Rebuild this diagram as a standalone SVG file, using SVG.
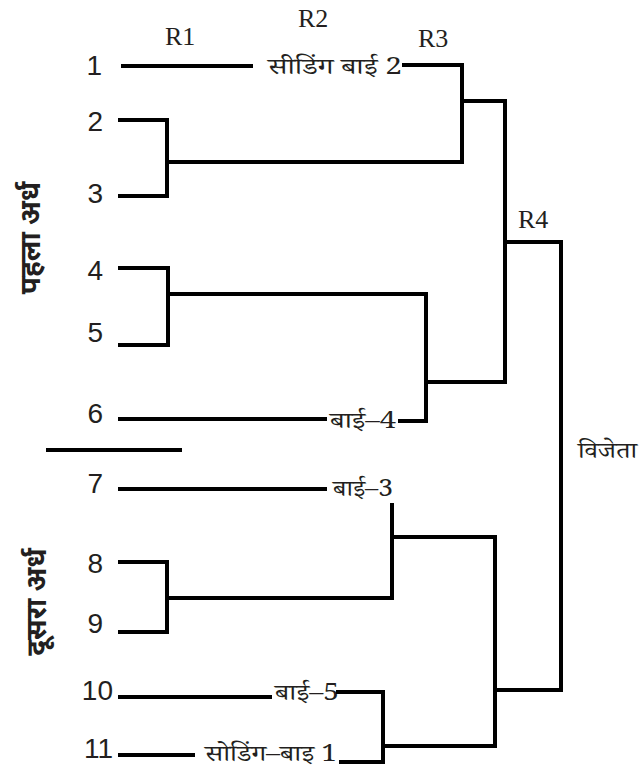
<svg xmlns="http://www.w3.org/2000/svg" width="640" height="772" viewBox="0 0 640 772">
  <style>
    .wire { fill: none; stroke: #000; stroke-width: 4; stroke-linecap: square; stroke-linejoin: miter; }
    .num { font-family: "Liberation Sans", Arial, sans-serif; font-size: 28px; fill: #231f20; text-anchor: end; }
    .rnd { font-family: "Liberation Serif", "Times New Roman", serif; font-size: 26px; fill: #231f20; }
    .lbl { font-family: "Noto Serif Devanagari", "Noto Sans Devanagari", "Liberation Serif", serif; font-size: 23px; fill: #231f20; }
    .half { font-family: "Noto Sans Devanagari", "Noto Sans", sans-serif; font-size: 28px; font-weight: bold; fill: #231f20; text-anchor: middle; }
  </style>
  <rect width="640" height="772" fill="#fff"/>

  <!-- round headings -->
  <g id="rounds">
    <text class="rnd" x="165" y="45">R1</text>
    <text class="rnd" x="298" y="27">R2</text>
    <text class="rnd" x="418" y="47">R3</text>
    <text class="rnd" x="518" y="228">R4</text>
  </g>

  <!-- half labels -->
  <g id="half-1">
    <text class="half" transform="translate(40,238) rotate(-90)">पहला अर्ध</text>
  </g>
  <g id="half-2">
    <text class="half" transform="translate(46,602) rotate(-90)">दूसरा अर्ध</text>
  </g>

  <!-- entrants -->
  <g id="p1"><text class="num" x="102" y="75">1</text></g>
  <g id="p2"><text class="num" x="103" y="131">2</text></g>
  <g id="p3"><text class="num" x="103" y="203">3</text></g>
  <g id="p4"><text class="num" x="103" y="280">4</text></g>
  <g id="p5"><text class="num" x="103" y="342">5</text></g>
  <g id="p6"><text class="num" x="103" y="423">6</text></g>
  <g id="p7"><text class="num" x="103" y="493">7</text></g>
  <g id="p8"><text class="num" x="103" y="573">8</text></g>
  <g id="p9"><text class="num" x="103" y="633">9</text></g>
  <g id="p10"><text class="num" x="113" y="700">10</text></g>
  <g id="p11"><text class="num" x="113" y="758">11</text></g>

  <!-- bye / seeding labels -->
  <g id="bye-2"><text class="lbl" x="268" y="74" textLength="134" lengthAdjust="spacingAndGlyphs">सीडिंग बाई 2</text></g>
  <g id="bye-4"><text class="lbl" x="330" y="428" textLength="66" lengthAdjust="spacingAndGlyphs">बाई–4</text></g>
  <g id="bye-3"><text class="lbl" x="333" y="496" textLength="60" lengthAdjust="spacingAndGlyphs">बाई–3</text></g>
  <g id="bye-5"><text class="lbl" x="275" y="700" textLength="64" lengthAdjust="spacingAndGlyphs">बाई–5</text></g>
  <g id="bye-1"><text class="lbl" x="205" y="761" font-size="22" textLength="132" lengthAdjust="spacingAndGlyphs">सोडिंग–बाइ 1</text></g>
  <g id="winner"><text class="lbl" x="578" y="458" textLength="59" lengthAdjust="spacingAndGlyphs">विजेता</text></g>

  <!-- bracket lines -->
  <g id="connectors" class="wire">
    <path d="M123,66 H251"/>
    <path d="M404,65 H462 V162"/>
    <path d="M120,120 H167 V196 H120"/>
    <path d="M167,162 H462"/>
    <path d="M462,101 H505 V382"/>
    <path d="M120,268 H168 V345 H120"/>
    <path d="M168,294 H426 V421 H400"/>
    <path d="M120,419 H325"/>
    <path d="M426,382 H505"/>
    <path d="M505,242 H561 V690 H495"/>
    <path d="M48,450 H180"/>
    <path d="M120,489 H325"/>
    <path d="M392,505 V598"/>
    <path d="M120,562 H167 V632 H120"/>
    <path d="M167,598 H392"/>
    <path d="M392,537 H495 V746"/>
    <path d="M120,697 H270"/>
    <path d="M338,692 H383 V762 H341"/>
    <path d="M120,755 H193"/>
    <path d="M383,746 H495"/>
  </g>
</svg>
